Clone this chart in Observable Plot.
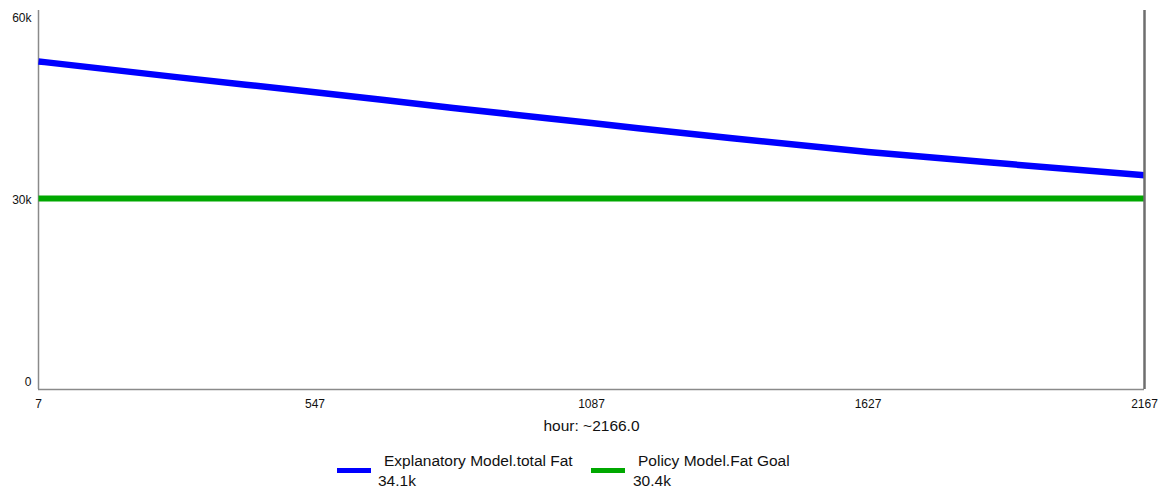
<!DOCTYPE html>
<html>
<head>
<meta charset="utf-8">
<script src="https://cdn.jsdelivr.net/npm/d3@7"></script>
<script src="https://cdn.jsdelivr.net/npm/@observablehq/plot@0.6"></script>
<style>
  body { margin: 0; background: #fff; font-family: "Liberation Sans", Arial, sans-serif; }
  #wrap { position: relative; width: 1166px; height: 491px; }
  .leg { position: absolute; font-size: 15.5px; color: #111; line-height: 18px; white-space: nowrap; }
  .sw { position: absolute; height: 5px; width: 34px; }
</style>
</head>
<body>
<div id="wrap">
  <div id="chart"></div>
  <div class="sw" style="left:337px;top:468px;background:#0000ff"></div>
  <div class="leg" style="left:384px;top:452px">Explanatory Model.total Fat</div>
  <div class="leg" style="left:378px;top:472px">34.1k</div>
  <div class="sw" style="left:591px;top:468px;background:#00a800"></div>
  <div class="leg" style="left:638px;top:452px">Policy Model.Fat Goal</div>
  <div class="leg" style="left:633px;top:472px">30.4k</div>
</div>
<script>
const hours = [7, 277, 547, 817, 1087, 1357, 1627, 1897, 2167];
const totalFat = [52200, 49700, 47300, 44800, 42400, 40000, 37800, 35900, 34100];
const fatGoal = [30400, 30400, 30400, 30400, 30400, 30400, 30400, 30400, 30400];
const xTicks = [7, 547, 1087, 1627, 2167];
const yTicks = [0, 30000, 60000];
const yTickLabels = ["0", "30k", "60k"];
const xLabel = "hour: ~2166.0";

const blueData = hours.map((h, i) => ({hour: h, value: totalFat[i]}));
const greenData = hours.map((h, i) => ({hour: h, value: fatGoal[i]}));

const yLabelOffsets = [-7, -1, 6];

const chart = Plot.plot({
  width: 1166,
  height: 440,
  marginLeft: 38,
  marginRight: 22,
  marginTop: 10,
  marginBottom: 51,
  style: {fontFamily: "Liberation Sans, Arial, sans-serif", background: "#fff"},
  x: {domain: [7, 2167]},
  y: {domain: [0, 60300]},
  marks: [
    Plot.axisX({ticks: xTicks, tickSize: 0, tickPadding: 10, fontSize: 12, label: null, tickFormat: d => String(d), fill: "#111"}),
    Plot.axisY({ticks: [], label: null}),
    ...yTicks.map((t, i) => Plot.text([t], {
      y: d => d, frameAnchor: "left", dx: -7, dy: yLabelOffsets[i],
      text: () => yTickLabels[i], textAnchor: "end", fontSize: 12, fill: "#111"
    })),
    Plot.ruleX([7], {stroke: "#8a8a8a", strokeWidth: 1.5}),
    Plot.ruleY([0], {stroke: "#8a8a8a", strokeWidth: 1.5}),
    Plot.line(greenData, {x: "hour", y: "value", stroke: "#00a800", strokeWidth: 6, strokeLinecap: "butt"}),
    Plot.line(blueData, {x: "hour", y: "value", stroke: "#0000ff", strokeWidth: 6.5, curve: "monotone-x", strokeLinecap: "butt"}),
    Plot.ruleX([2167], {stroke: "#6e6e6e", strokeWidth: 2.5}),
    Plot.text([xLabel], {frameAnchor: "bottom", dy: 41, text: d => d, fontSize: 15.5, fill: "#111"})
  ]
});
document.getElementById("chart").appendChild(chart);
</script>
</body>
</html>
